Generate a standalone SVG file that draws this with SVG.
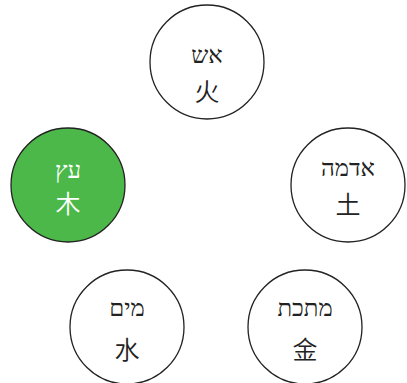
<svg xmlns="http://www.w3.org/2000/svg" width="407" height="383" viewBox="0 0 407 383">
<style>
.n{fill:#fff;stroke:#222;stroke-width:1.3}
.g{fill:#4cb84a}
.he{font-family:"Liberation Serif","DejaVu Serif",serif;font-size:24px;text-anchor:middle;fill:#222}
.zh{font-family:"Noto Sans CJK SC",sans-serif;font-size:25px;font-weight:350;text-anchor:middle;fill:#222}
.w{fill:#fff}
</style>
<rect width="407" height="383" fill="#fff"/>
<g id="connectors"></g>
<g id="fire">
<circle class="n" cx="207" cy="62" r="57"/>
<text class="he" x="207" y="63">אש</text>
<text class="zh" x="207" y="101">火</text>
</g>
<g id="wood">
<circle class="n g" cx="68" cy="185" r="57"/>
<text class="he w" x="68" y="178">עץ</text>
<text class="zh w" x="68" y="213">木</text>
</g>
<g id="earth">
<circle class="n" cx="348" cy="185" r="57"/>
<text class="he" x="348" y="176">אדמה</text>
<text class="zh" x="348" y="214">土</text>
</g>
<g id="water">
<circle class="n" cx="127" cy="327" r="57"/>
<text class="he" x="127" y="316">מים</text>
<text class="zh" x="127" y="359">水</text>
</g>
<g id="metal">
<circle class="n" cx="305" cy="327" r="57"/>
<text class="he" x="305" y="316">מתכת</text>
<text class="zh" x="305" y="359">金</text>
</g>
</svg>
